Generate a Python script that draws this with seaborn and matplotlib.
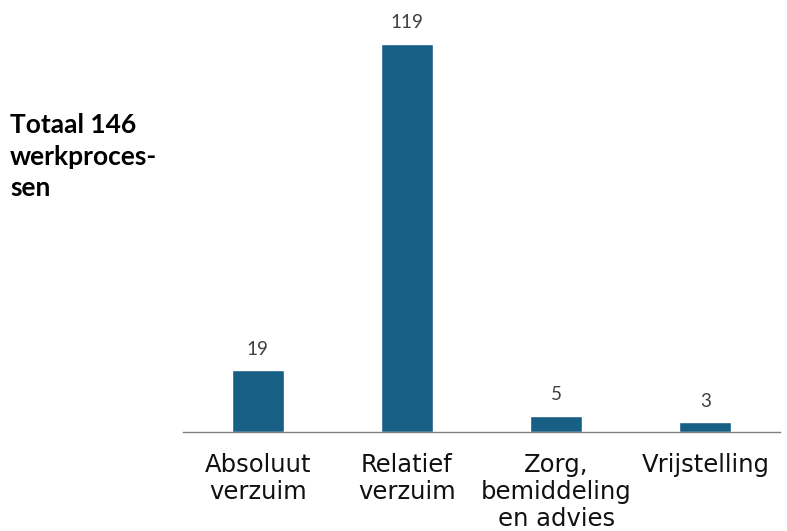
import matplotlib
matplotlib.use('Agg')
import matplotlib.pyplot as plt
import seaborn as sns
import pandas as pd

# Data
categories = ['Absoluut\nverzuim', 'Relatief\nverzuim', 'Zorg,\nbemiddeling\nen advies', 'Vrijstelling']
values = [19, 119, 5, 3]

df = pd.DataFrame({'categorie': categories, 'aantal': values})

sns.set_style('white')
plt.rcParams['font.family'] = ['DejaVu Sans']

fig = plt.figure(figsize=(7.87, 5.31), dpi=100)
ax = fig.add_axes([183 / 787, (531 - 432) / 531, (780 - 183) / 787, 422 / 531])

sns.barplot(data=df, x='categorie', y='aantal', color='#185f86', width=0.35,
            saturation=1, ax=ax)

ax.set_xlim(-0.5, 3.5)
ax.set_ylim(0, 129.4)
ax.bar_label(ax.containers[0], padding=9, fontsize=13.5, color='#404040',
             family=['Lato', 'DejaVu Sans'])

for side in ['top', 'right', 'left']:
    ax.spines[side].set_visible(False)
ax.spines['bottom'].set_color('#808080')
ax.spines['bottom'].set_linewidth(1)
ax.set_yticks([])
ax.set_xlabel('')
ax.set_ylabel('')
ax.tick_params(axis='x', length=0, pad=15, labelsize=17.5, labelcolor='#111111')
for lbl in ax.get_xticklabels():
    lbl.set_linespacing(1.15)

fig.text(10 / 787, 1 - 113 / 531, 'Totaal 146\nwerkproces-\nsen', fontsize=19,
         fontweight='bold', family=['Lato', 'DejaVu Sans'], va='top', ha='left',
         linespacing=1.38, color='black')

fig.savefig('out.png', dpi=100)
